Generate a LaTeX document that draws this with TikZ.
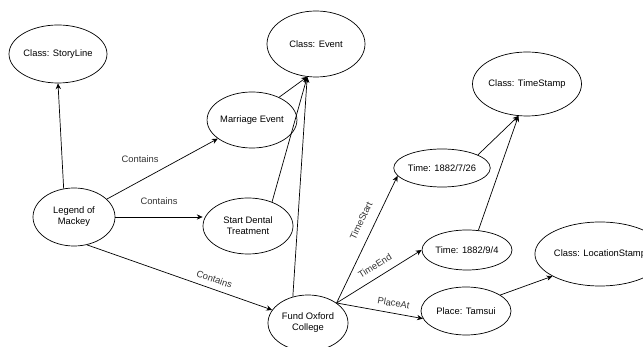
\documentclass[tikz,border=0pt]{standalone}
\usepackage{fontspec}
\setmainfont{Liberation Sans}
\usetikzlibrary{arrows.meta,shapes.geometric}
\def\px{0.03cm}
\tikzset{
  oval/.style={draw, ellipse, inner sep=0pt, align=center,
    font=\fontsize{8}{9.5}\selectfont},
  wh/.style 2 args={minimum width=#1*\px, minimum height=#2*\px},
  rel/.style={-{Stealth[length=5pt,width=4.5pt]}},
  lbl/.style={font=\fontsize{8}{9.5}\selectfont, text=black!80}
}
\begin{document}
\begin{tikzpicture}[x=\px, y=-\px, line width=0.6pt]
  \useasboundingbox (0,0) rectangle (643,347);
  \node[oval, wh={98}{58}] (sl) at (58,54) {Class: StoryLine};
  \node[oval, wh={98}{66}] (ev) at (316,44) {Class: Event};
  \node[oval, wh={80}{56}] (me) at (252,120) {Marriage Event};
  \node[oval, wh={98}{64}] (ts) at (527,84) {Class: TimeStamp};
  \node[oval, wh={82}{58}] (lm) at (74,217) {Legend of\\Mackey};
  \node[oval, wh={90}{56}] (sd) at (248,226) {Start Dental\\Treatment};
  \node[oval, wh={90}{38}] (t1) at (442,168) {Time: 1882/7/26};
  \node[oval, wh={90}{40}] (t2) at (467,250) {Time: 1882/9/4};
  \node[oval, wh={96}{64}] (ls) at (600,254) {Class: LocationStamp};
  \node[oval, wh={90}{48}] (pl) at (466,311) {Place: Tamsui};
  \node[oval, wh={80}{56}] (fu) at (308,323) {Fund Oxford\\College};

  \draw[rel] (lm.110) -- (sl.south);
  \draw[rel] (lm) -- node[lbl, pos=0.3, above=12pt]{Contains} (me);
  \draw[rel] (lm.east) -- node[lbl, above=7pt]{Contains} (sd.west |- lm.east);
  \draw[rel] (lm.-65) -- node[lbl, pos=0.67, sloped, above=2pt]{Contains} (fu.160);
  \draw[rel] (me.40) -- (ev.255);
  \draw[rel] (sd.45) -- (ev.255);
  \draw[rel] (fu.120) -- (ev.255);
  \draw[rel] (fu.35) -- node[lbl, pos=0.6, sloped, above=5pt]{TimeStart} (t1.190);
  \draw[rel] (fu.35) -- node[lbl, pos=0.52, sloped, above=3pt]{TimeEnd} (t2.west);
  \draw[rel] (fu.35) -- node[lbl, pos=0.64, sloped, above=2pt]{PlaceAt} (pl.190);
  \draw[rel] (t1.20) -- (ts.255);
  \draw[rel] (t2.60) -- (ts.255);
  \draw[rel] (pl.25) -- (ls.205);
\end{tikzpicture}
\end{document}
